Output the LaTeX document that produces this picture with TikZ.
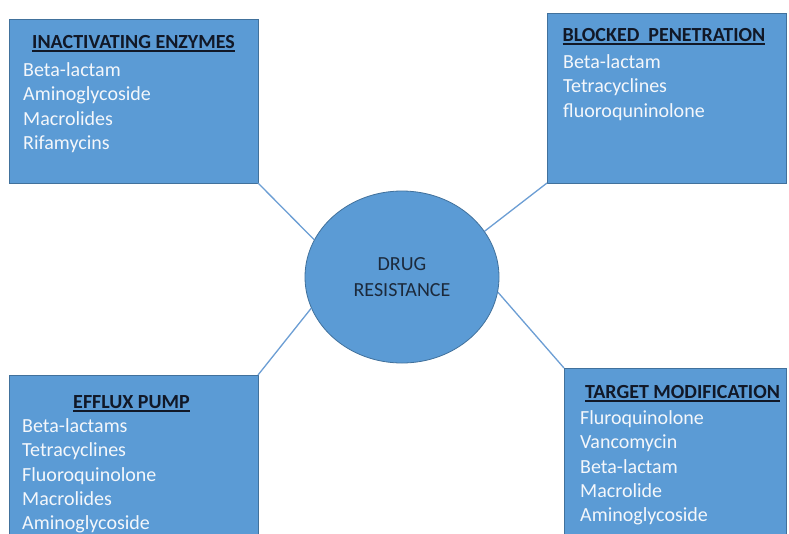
\documentclass[tikz,border=0pt]{standalone}
\usepackage{fontspec}
\setmainfont{Carlito}
\usepackage{tikz}
\usetikzlibrary{positioning, shapes.geometric}
\definecolor{boxblue}{HTML}{5B9BD5}
\definecolor{edgeblue}{HTML}{41719C}
\definecolor{linkblue}{HTML}{6C9ED4}
\definecolor{titleink}{HTML}{111827}
\definecolor{hubink}{HTML}{1C2A3C}
\definecolor{itemink}{HTML}{F4F7FB}

\newsavebox{\titlebox}
\newcommand{\titleline}[1]{\sbox{\titlebox}{#1}\rlap{\rule[-4pt]{\wd\titlebox}{1.6pt}}\usebox{\titlebox}}

\begin{document}
\begin{tikzpicture}[
    x=1pt, y=-1pt,
    mechbox/.style={
        rectangle, draw=edgeblue, fill=boxblue, line width=0.8pt,
        inner sep=0pt, outer sep=0pt, anchor=north west
    },
    headtext/.style={font=\fontsize{20}{24}\selectfont\bfseries, text=titleink, inner sep=0pt, anchor=base},
    drugs/.style={font=\fontsize{20}{24.4}\selectfont, text=itemink, align=left, inner sep=0pt, anchor=north west},
    hub/.style={
        ellipse, draw=edgeblue, fill=boxblue, line width=0.8pt,
        minimum width=194pt, minimum height=172pt, inner sep=0pt,
        align=center, font=\fontsize{20}{26}\selectfont, text=hubink
    },
    link/.style={draw=linkblue, line width=1.3pt},
]
\clip (0,0) rectangle (789,533);
\fill[white] (0,0) rectangle (789,533);

% ── Centre ────────────────────────────────────────────────────────────────
\node[hub] (drug) at (402,277) {DRUG\\RESISTANCE};

% ── Inactivating enzymes ──────────────────────────────────────────────────
\node[mechbox, minimum width=249pt, minimum height=164pt] (inact) at (9,19) {};
\node[headtext] (inact_t) at ([shift={(0,29)}]inact.north) {\titleline{INACTIVATING ENZYMES}};
\node[drugs] (inact_l) at ([shift={(14,40)}]inact.north west)
    {\strut Beta-lactam\\\strut Aminoglycoside\\\strut Macrolides\\\strut Rifamycins};

% ── Blocked penetration ───────────────────────────────────────────────────
\node[mechbox, minimum width=239pt, minimum height=170pt] (blocked) at (547,13) {};
\node[headtext] (blocked_t) at ([shift={(-2.5,28)}]blocked.north) {\titleline{BLOCKED\ \ PENETRATION}};
\node[drugs] (blocked_l) at ([shift={(16,38)}]blocked.north west)
    {\strut Beta-lactam\\\strut Tetracyclines\\\strut fluoroquninolone};

% ── Efflux pump ───────────────────────────────────────────────────────────
\node[mechbox, minimum width=249pt, minimum height=190pt] (efflux) at (9,375) {};
\node[headtext] (efflux_t) at ([shift={(-2,33)}]efflux.north) {\titleline{EFFLUX PUMP}};
\node[drugs] (efflux_l) at ([shift={(13,40)}]efflux.north west)
    {\strut Beta-lactams\\\strut Tetracyclines\\\strut Fluoroquinolone\\\strut Macrolides\\\strut Aminoglycoside};

% ── Target modification ───────────────────────────────────────────────────
\node[mechbox, minimum width=222pt, minimum height=190pt] (target) at (564,368) {};
\node[headtext] (target_t) at ([shift={(7.5,30)}]target.north) {\titleline{TARGET MODIFICATION}};
\node[drugs] (target_l) at ([shift={(16,39)}]target.north west)
    {\strut Fluroquinolone\\\strut Vancomycin\\\strut Beta-lactam\\\strut Macrolide\\\strut Aminoglycoside};

% ── Links ─────────────────────────────────────────────────────────────────
\draw[link] (inact.south east) -- (drug.157);
\draw[link] (blocked.south west) -- (drug.29);
\draw[link] (efflux.north east) -- (drug.199);
\draw[link] (drug.351) -- (target.north west);

\end{tikzpicture}
\end{document}
